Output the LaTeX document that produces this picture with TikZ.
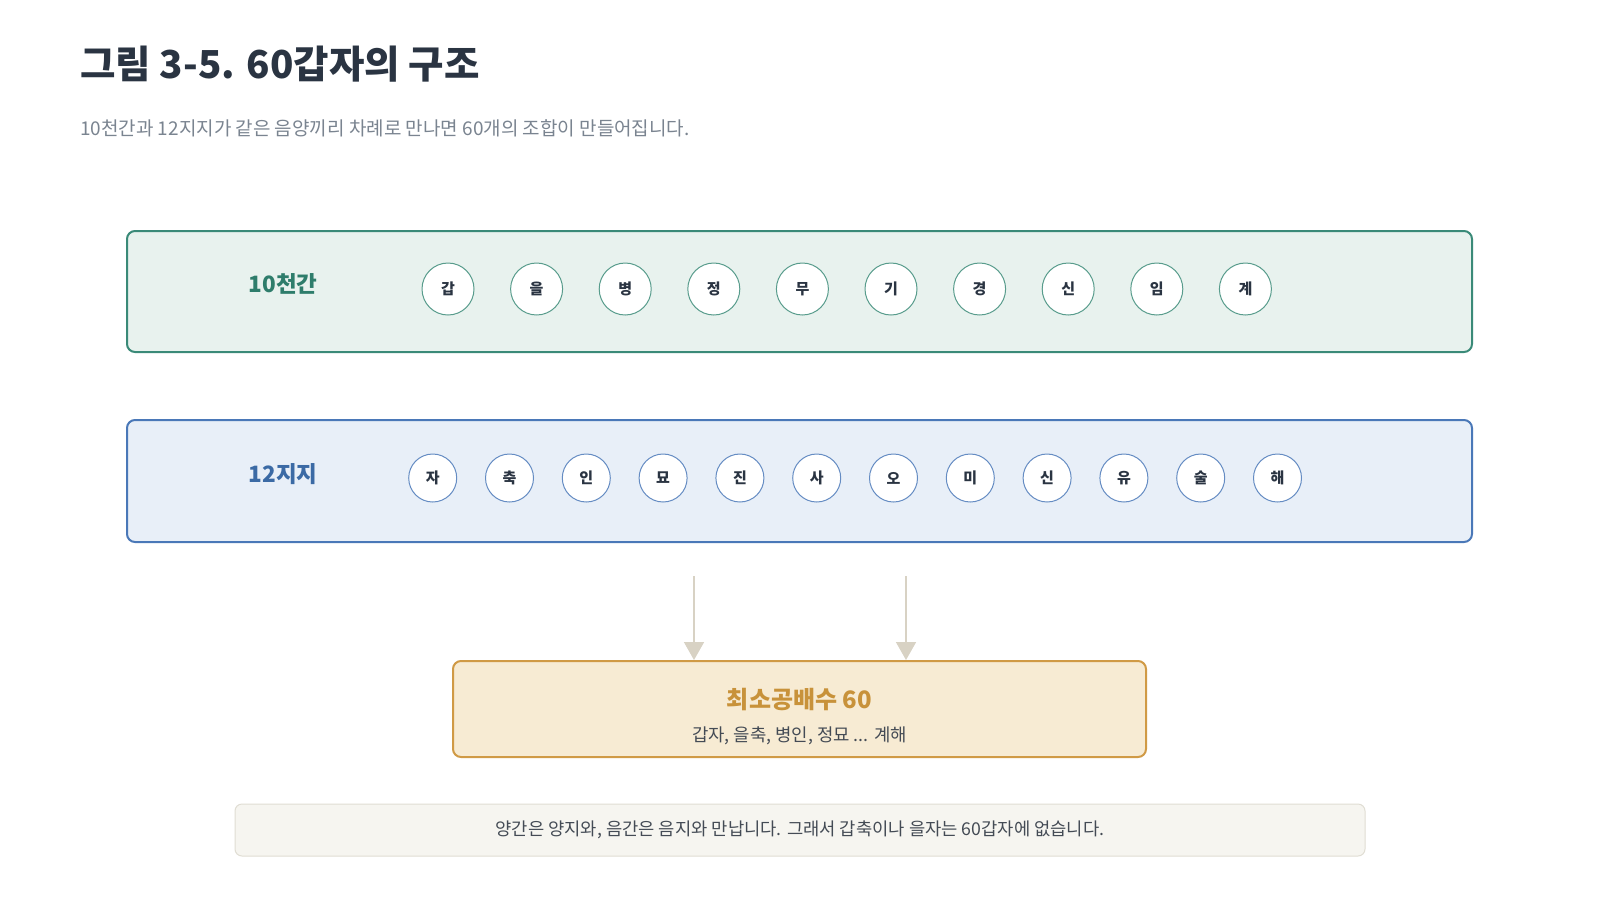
\documentclass[tikz,border=0pt]{standalone}
\usepackage{fontspec}
\setmainfont{Noto Sans CJK KR}
\usetikzlibrary{arrows.meta}

\definecolor{titlecol}{HTML}{2A3442}
\definecolor{subcol}{HTML}{7A8490}
\definecolor{greenfill}{HTML}{E8F2EE}
\definecolor{greenline}{HTML}{3A8A78}
\definecolor{greentext}{HTML}{2E7D6B}
\definecolor{bluefill}{HTML}{E8EFF8}
\definecolor{blueline}{HTML}{4A78B8}
\definecolor{bluetext}{HTML}{3B6AA5}
\definecolor{lcmfill}{HTML}{F7EBD3}
\definecolor{lcmline}{HTML}{D09A45}
\definecolor{lcmtext}{HTML}{C8923A}
\definecolor{notefill}{HTML}{F6F5F0}
\definecolor{noteline}{HTML}{E0DDD3}
\definecolor{arrowcol}{HTML}{D8D2C4}
\definecolor{bodytext}{HTML}{444B55}

\begin{document}
\begin{tikzpicture}[x=1pt,y=-1pt,
  band/.style={draw,line width=2pt,rounded corners=8pt},
  bandlabel/.style={font=\fontsize{22.5}{22.5}\selectfont\bfseries},
  stem/.style={draw=#1,fill=white,circle,line width=1pt,minimum size=52pt,inner sep=0pt,
    font=\fontsize{15}{15}\selectfont\bfseries,text=titlecol},
  branch/.style={draw=#1,fill=white,circle,line width=1pt,minimum size=48pt,inner sep=0pt,
    font=\fontsize{15}{15}\selectfont\bfseries,text=titlecol},
  feed/.style={draw=arrowcol,line width=1.6pt,-{Triangle[length=18pt,width=20pt]}}]
  \useasboundingbox[fill=white] (0,0) rectangle (1600,900);

  % title
  \node[anchor=base west,text=titlecol,font=\fontsize{38.5}{38.5}\selectfont\bfseries,inner sep=0pt] (title) at (80,78) {그림 3-5. 60갑자의 구조};
  \node[anchor=base west,text=subcol,font=\fontsize{19}{19}\selectfont,inner sep=0pt] (subtitle) at (80,135) {10천간과 12지지가 같은 음양끼리 차례로 만나면 60개의 조합이 만들어집니다.};

  % 10 heavenly stems
  \draw[band,draw=greenline,fill=greenfill] (127,231) rectangle (1472,352);
  \node[bandlabel,text=greentext] (stemlabel) at (283,284) {10천간};
  \foreach \s [count=\i from 0] in {갑,을,병,정,무,기,경,신,임,계}
    \node[stem=greenline!85] (s\i) at (448+88.6*\i,289) {\s};

  % 12 earthly branches
  \draw[band,draw=blueline,fill=bluefill] (127,420) rectangle (1472,542);
  \node[bandlabel,text=bluetext] (branchlabel) at (283,474) {12지지};
  \foreach \b [count=\i from 0] in {자,축,인,묘,진,사,오,미,신,유,술,해}
    \node[branch=blueline!85] (b\i) at (432.7+76.8*\i,478) {\b};

  % result box
  \node[draw=lcmline,fill=lcmfill,line width=2pt,rounded corners=8pt,minimum width=693pt,minimum height=96pt] (lcm) at (799.5,709) {};
  \node[text=lcmtext,font=\fontsize{24}{24}\selectfont\bfseries] (lcmtitle) at (799.5,700) {최소공배수 60};
  \node[text=bodytext,font=\fontsize{17.8}{17.8}\selectfont] (lcmsub) at (799.5,736) {갑자, 을축, 병인, 정묘 ... 계해};

  \coordinate (f1) at (694,576);
  \coordinate (f2) at (906,576);
  \draw[feed] (f1) -- (f1 |- lcm.north);
  \draw[feed] (f2) -- (f2 |- lcm.north);

  % note
  \node[draw=noteline,fill=notefill,line width=1pt,rounded corners=7pt,minimum width=1130pt,minimum height=52pt,
    text=bodytext,font=\fontsize{17.7}{17.7}\selectfont] (note) at (800,830) {양간은 양지와, 음간은 음지와 만납니다. 그래서 갑축이나 을자는 60갑자에 없습니다.};
\end{tikzpicture}
\end{document}
